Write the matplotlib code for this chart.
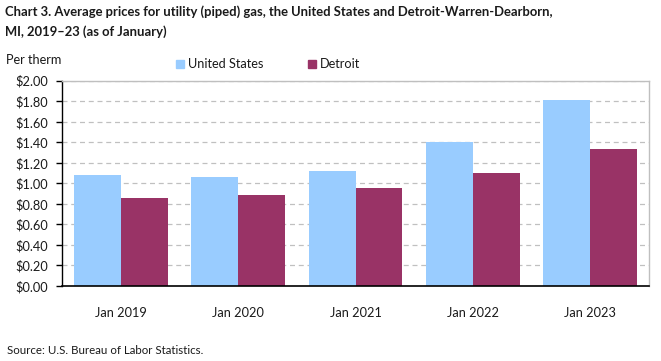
import matplotlib
matplotlib.use("Agg")
import matplotlib.pyplot as plt
import numpy as np
from matplotlib.patches import Rectangle

categories = ["Jan 2019", "Jan 2020", "Jan 2021", "Jan 2022", "Jan 2023"]
us_values = [1.08, 1.06, 1.12, 1.40, 1.81]
detroit_values = [0.86, 0.89, 0.95, 1.10, 1.33]
series_names = ["United States", "Detroit"]
y_ticks = [0.0, 0.2, 0.4, 0.6, 0.8, 1.0, 1.2, 1.4, 1.6, 1.8, 2.0]

US_COLOR = "#99ccff"
DET_COLOR = "#993366"
FONT = "Lato"
TXT = "#1a1a1a"

plt.rcParams['font.family'] = [FONT, 'DejaVu Sans']

fig = plt.figure(figsize=(6.61, 3.61), dpi=100)
renderer = fig.canvas.get_renderer()


def fit_size(text, target_px, weight='normal', base=10.0):
    t = fig.text(0, 0, text, fontsize=base, fontweight=weight)
    wpx = t.get_window_extent(renderer=renderer).width
    t.remove()
    return base * target_px / wpx


FS_TICK = 1.1 * min(fit_size("$2.00", 39), fit_size("Jan 2019", 47))
FS_LEG = 1.07 * fit_size("United States", 71)
FS_TITLE = fit_size("Chart 3. Average prices for utility (piped) gas, the United States and Detroit-Warren-Dearborn,", 549, weight='bold')
FS_SRC = 1.05 * fit_size("Source: U.S. Bureau of Labor Statistics.", 188)

ax = fig.add_axes([62/661, 1 - 286/361, (649-62)/661, (286-80.7)/361])

x = np.arange(len(categories))
w = 0.4
ax.bar(x - w/2, us_values, width=w, color=US_COLOR, zorder=2)
ax.bar(x + w/2, detroit_values, width=w, color=DET_COLOR, zorder=2)

ax.set_xlim(-0.5, len(categories) - 0.5)
ax.set_ylim(0, 2.0)
ax.set_yticks(y_ticks)
ax.set_yticklabels([f"${v:.2f}" for v in y_ticks], fontsize=FS_TICK, color=TXT)
ax.set_xticks(x)
ax.set_xticklabels(categories, fontsize=FS_TICK, color=TXT)
ax.tick_params(axis='x', length=0, pad=15)
ax.tick_params(axis='y', length=4, width=1, direction='out', pad=6, color="black")

ax.yaxis.grid(True, linestyle=(0, (4, 3)), color="#c0c0c0", linewidth=0.9, zorder=0)
ax.set_axisbelow(True)
for s in ['top', 'right']:
    ax.spines[s].set_color("#bfbfbf")
    ax.spines[s].set_linewidth(1)
ax.spines['left'].set_color("black")
ax.spines['bottom'].set_color("black")
ax.spines['bottom'].set_linewidth(1.2)
ax.spines['left'].set_linewidth(1)

fig.text(5/661, 1 - 12/361, "Chart 3. Average prices for utility (piped) gas, the United States and Detroit-Warren-Dearborn,",
         fontsize=FS_TITLE, fontweight='bold', ha='left', va='center', color=TXT)
fig.text(5/661, 1 - 32/361, "MI, 2019\u201323 (as of January)",
         fontsize=FS_TITLE, fontweight='bold', ha='left', va='center', color=TXT)
fig.text(6/661, 1 - 60/361, "Per therm", fontsize=FS_LEG, ha='left', va='center', color=TXT)

# legend
for px, name, col in [(176, series_names[0], US_COLOR), (308, series_names[1], DET_COLOR)]:
    fig.patches.append(Rectangle((px/661, 1 - 68/361), 8/661, 8/361, transform=fig.transFigure,
                                 color=col, figure=fig))
    fig.text((px + 12)/661, 1 - 63.5/361, name, fontsize=FS_LEG, ha='left', va='center', color=TXT)

fig.text(7/661, 1 - 350/361, "Source: U.S. Bureau of Labor Statistics.", fontsize=FS_SRC, ha='left', va='center', color=TXT)

fig.savefig("out.png", dpi=100)
